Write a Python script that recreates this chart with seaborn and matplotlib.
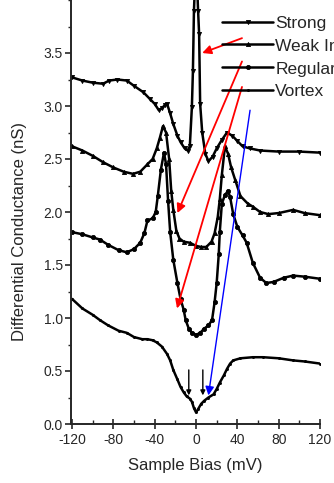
import numpy as np
import pandas as pd
import matplotlib
matplotlib.use("Agg")
import matplotlib.pyplot as plt
import seaborn as sns
from matplotlib.ticker import MultipleLocator, FormatStrFormatter

# ---------------- data ----------------
series_names = ["Strong", "Weak Interaction", "Regular", "Vortex"]

strong_x = [-120, -110, -100, -90, -84, -76, -67, -60, -51, -45, -40, -36, -33, -30, -28, -25, -22,
            -18, -15, -11, -8, -6, -4, -3, -2, 0, 2, 3, 4, 6, 9, 12, 16, 20, 25, 30, 35, 40, 45,
            52, 62, 80, 100, 120]
strong_y = [3.27, 3.24, 3.22, 3.21, 3.24, 3.25, 3.24, 3.19, 3.13, 3.07, 3.02, 2.96, 2.98, 3.01, 3.02,
            2.93, 2.83, 2.72, 2.66, 2.60, 2.58, 2.62, 2.99, 3.33, 3.90, 4.40, 3.90, 3.68, 3.02, 2.75,
            2.55, 2.48, 2.52, 2.60, 2.68, 2.75, 2.72, 2.67, 2.62, 2.60, 2.58, 2.57, 2.57, 2.56]

weak_x = [-120, -110, -100, -90, -80, -70, -61, -54, -47, -42, -38, -35, -32, -29, -26, -24, -22,
          -19, -16, -12, -6, 0, 5, 10, 15, 18, 21, 23, 25, 28, 31, 34, 38, 43, 50, 55, 62, 70, 80,
          94, 105, 120]
weak_y = [2.62, 2.58, 2.53, 2.47, 2.42, 2.38, 2.36, 2.38, 2.45, 2.50, 2.60, 2.70, 2.81, 2.75, 2.50,
          2.20, 2.02, 1.82, 1.75, 1.72, 1.71, 1.68, 1.67, 1.67, 1.72, 1.80, 1.95, 2.12, 2.35, 2.62,
          2.55, 2.42, 2.30, 2.15, 2.08, 2.05, 2.00, 1.98, 1.99, 2.02, 1.99, 1.97]

regular_x = [-120, -110, -100, -93, -85, -75, -67, -60, -54, -50, -47, -42, -39, -37, -34, -31, -29,
             -27, -25, -22, -18, -15, -12, -10, -7, -4, 0, 4, 8, 12, 15.5, 18, 20, 22, 23, 25, 28,
             31, 33, 36, 40, 45, 49, 55, 62, 68, 75, 85, 94, 105, 120]
regular_y = [1.81, 1.79, 1.76, 1.74, 1.69, 1.64, 1.62, 1.65, 1.71, 1.80, 1.92, 1.94, 2.00, 2.15, 2.40,
             2.56, 2.45, 2.10, 1.81, 1.55, 1.33, 1.18, 1.08, 0.98, 0.90, 0.86, 0.84, 0.86, 0.90,
             0.93, 0.98, 1.15, 1.33, 1.60, 1.81, 2.08, 2.16, 2.20, 2.14, 1.98, 1.86, 1.78, 1.71,
             1.52, 1.38, 1.33, 1.34, 1.38, 1.40, 1.39, 1.37]

vortex_x = [-120, -110, -100, -93, -85, -75, -67, -60, -52, -47, -42, -38, -33, -28, -25, -22, -18,
            -15, -12, -9, -6, -4, -2, 0, 2, 5, 8, 12, 17, 20, 23, 27, 30, 33, 36, 43, 55, 65, 80,
            94, 105, 120]
vortex_y = [1.18, 1.09, 1.03, 0.98, 0.93, 0.88, 0.86, 0.82, 0.80, 0.80, 0.79, 0.77, 0.73, 0.66, 0.60,
            0.51, 0.42, 0.35, 0.30, 0.26, 0.24, 0.21, 0.15, 0.11, 0.14, 0.19, 0.22, 0.25, 0.28,
            0.33, 0.39, 0.46, 0.52, 0.57, 0.60, 0.62, 0.63, 0.63, 0.62, 0.60, 0.59, 0.57]

x_ticks = [-120, -80, -40, 0, 40, 80, 120]
y_ticks = [0.0, 0.5, 1.0, 1.5, 2.0, 2.5, 3.0, 3.5]

frames = []
for name, xs, ys in zip(series_names,
                        [strong_x, weak_x, regular_x, vortex_x],
                        [strong_y, weak_y, regular_y, vortex_y]):
    frames.append(pd.DataFrame({"bias": xs, "G": ys, "series": name}))
df = pd.concat(frames, ignore_index=True)

# ---------------- style ----------------
sns.set_style("ticks")
plt.rcParams["font.family"] = ["Liberation Sans", "DejaVu Sans"]
plt.rcParams["axes.unicode_minus"] = False

fig = plt.figure(figsize=(3.34, 4.83), dpi=100)
ax = fig.add_axes([71 / 334, 59 / 483, 249 / 334, 424 / 483])

markers = {"Strong": "v", "Weak Interaction": "^", "Regular": "o", "Vortex": "."}
palette = {n: "black" for n in series_names}
sns.lineplot(data=df, x="bias", y="G", hue="series", style="series", hue_order=series_names,
             style_order=series_names, palette=palette, markers=markers, dashes=False,
             linewidth=1.8, markersize=3, markeredgewidth=0.6, markeredgecolor="black", ax=ax)

ax.set_xlim(-121, 120)
ax.set_ylim(0, 4.0)
ax.set_xticks(x_ticks)
ax.set_yticks(y_ticks)
ax.xaxis.set_minor_locator(MultipleLocator(20))
ax.yaxis.set_minor_locator(MultipleLocator(0.25))
ax.yaxis.set_major_formatter(FormatStrFormatter("%.1f"))
ax.tick_params(axis="x", which="major", direction="inout", length=7, width=1.2, labelsize=10, pad=3)
ax.tick_params(axis="x", which="minor", direction="in", length=3, width=1.0)
ax.tick_params(axis="y", which="major", direction="out", length=4, width=1.2, labelsize=10, pad=2)
ax.tick_params(axis="y", which="minor", direction="out", length=2.5, width=1.0)
for s in ["top", "right"]:
    ax.spines[s].set_visible(False)
for s in ["left", "bottom"]:
    ax.spines[s].set_linewidth(1.4)

ax.set_xlabel("Sample Bias (mV)", fontsize=12, labelpad=8)
ax.set_ylabel("Differential Conductance (nS)", fontsize=12)
ax.yaxis.set_label_coords(-0.175, 0.455)

handles, labels = ax.get_legend_handles_labels()
pairs = [(h, l) for h, l in zip(handles, labels) if l in series_names]
leg = ax.legend([p[0] for p in pairs], [p[1] for p in pairs], loc="upper left",
                bbox_to_anchor=(0.58, 0.98), frameon=False, fontsize=12.5,
                handlelength=2.9, handletextpad=0.15, labelspacing=0.45, borderaxespad=0)

# ---------------- annotations ----------------
def arrow(tip, start, color, lw, ms):
    ax.annotate("", xy=tip, xytext=start, annotation_clip=False,
                arrowprops=dict(arrowstyle="-|>", color=color, lw=lw, mutation_scale=ms,
                                shrinkA=0, shrinkB=0))

arrow((6, 3.5), (44.5, 3.64), "red", 1.3, 13)
arrow((-18, 1.99), (44.5, 3.42), "red", 1.3, 13)
arrow((-18.4, 1.09), (44.5, 3.18), "red", 1.3, 13)
arrow((12, 0.27), (52.3, 2.96), "blue", 1.0, 13)
arrow((-7, 0.27), (-7, 0.51), "black", 1.0, 7)
arrow((6.6, 0.27), (6.6, 0.51), "black", 1.0, 7)

fig.savefig("out.png", dpi=100)
